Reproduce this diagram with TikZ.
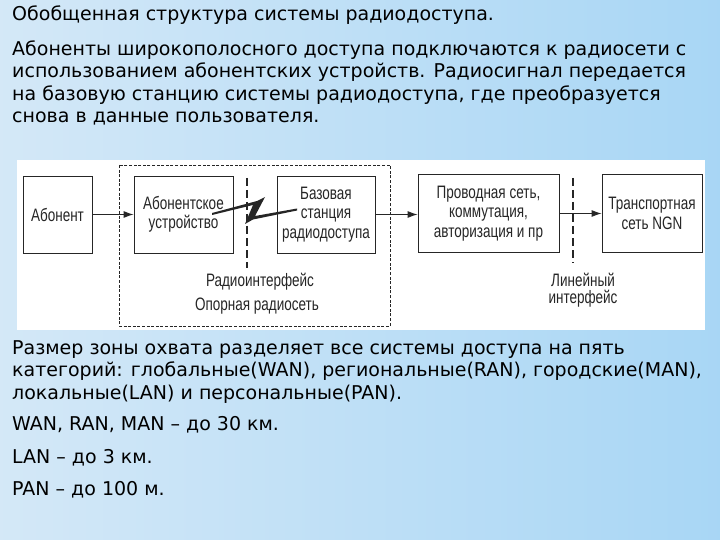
\documentclass[tikz,border=0pt]{standalone}
\usepackage{fontspec}
\setmainfont{DejaVu Sans}
\newfontfamily\dgfont[FakeStretch=0.75]{Liberation Sans}
\usetikzlibrary{arrows.meta}
\definecolor{bgL}{rgb}{0.83,0.91,0.97}
\definecolor{bgM}{rgb}{0.96,0.98,1.00}
\definecolor{bgR}{rgb}{0.66,0.84,0.96}
\definecolor{ink}{rgb}{0.15,0.15,0.15}
\tikzset{
  txt/.style={anchor=base west, inner sep=0, font=\fontsize{19}{22}\selectfont},
  box/.style={draw=ink, line width=0.9pt, fill=white, align=center, inner sep=0,
    font=\dgfont\fontsize{18}{19.5}\selectfont, text=ink},
  lbl/.style={align=center, inner sep=0, font=\dgfont\fontsize{18}{17}\selectfont, text=ink},
  arr/.style={draw=ink, line width=0.9pt, -{Latex[length=10pt,width=7pt]}},
  zone/.style={draw=ink, line width=0.8pt, dash pattern=on 3pt off 1.6pt},
  iface/.style={draw=ink, line width=1.3pt, dash pattern=on 8pt off 4pt}
}
\begin{document}
\begin{tikzpicture}[x=1pt,y=-1pt]
\useasboundingbox (0,0) rectangle (720,540);
\shade[left color=bgL, middle color=bgM, right color=bgR] (0,0) rectangle (720,540);
% texts top
\node[txt] (t0) at (12,21) {Обобщенная структура системы радиодоступа.};
\node[txt] (t1) at (12,56) {Абоненты широкополосного доступа подключаются к радиосети с};
\node[txt] (t2) at (12,78) {использованием абонентских устройств. Радиосигнал передается};
\node[txt] (t3) at (12,101) {на базовую станцию системы радиодоступа, где преобразуется};
\node[txt] (t4) at (12,123) {снова в данные пользователя.};
% diagram panel
\fill[white] (17,160) rectangle (705,330);
\draw[zone] (119,165) rectangle (390,326);
\node[box, minimum width=69pt, minimum height=77pt] (abon) at (57.5,214.5) {Абонент};
\node[box, minimum width=99pt, minimum height=77pt] (dev) at (183.5,214.5) {Абонентское\\устройство};
\node[box, minimum width=98pt, minimum height=77pt] (bs) at (326,214.5) {Базовая\\станция\\радиодоступа};
\node[box, minimum width=141pt, minimum height=78pt] (wired) at (488.5,213.5) {Проводная сеть,\\коммутация,\\авторизация и пр};
\node[box, minimum width=100pt, minimum height=78pt] (ngn) at (652,213.5) {Транспортная\\сеть NGN};
\draw[arr] (abon.east) -- (dev.west);
\draw[arr] (bs.east) -- (bs.east -| wired.west);
\draw[arr] (wired.east) -- (wired.east -| ngn.west);
\coordinate (r1) at (247,178);
\coordinate (r2) at (247,268);
\coordinate (l1) at (573,178);
\coordinate (l2) at (573,263);
\draw[iface] (r1) -- (r2);
\draw[iface] (l1) -- (l2);
% lightning
\fill[ink] (212,213) -- (257,201) -- (265,197) -- (255,216) -- (297,208.5) -- (297,210.5)
  -- (253,219.5) -- (245,224) -- (253,205) -- (212,215) -- cycle;
\node[lbl] (rif) at (260,282) {Радиоинтерфейс};
\node[lbl] (orn) at (257,306) {Опорная радиосеть};
\node[lbl] (lif) at (583,290) {Линейный\\интерфейс};
% bottom texts
\node[txt] (b1) at (12,354) {Размер зоны охвата разделяет все системы доступа на пять};
\node[txt] (b2) at (12,376) {категорий: глобальные(WAN), региональные(RAN), городские(MAN),};
\node[txt] (b3) at (12,399) {локальные(LAN) и персональные(PAN).};
\node[txt] (b4) at (12,430) {WAN, RAN, MAN – до 30 км.};
\node[txt] (b5) at (12,463) {LAN – до 3 км.};
\node[txt] (b6) at (12,495) {PAN – до 100 м.};
\end{tikzpicture}
\end{document}
